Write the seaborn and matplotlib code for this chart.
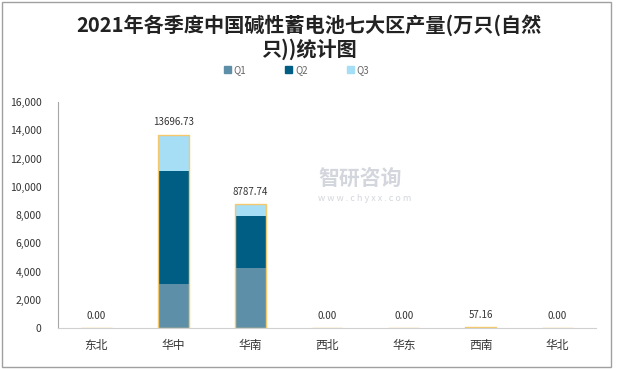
import matplotlib
matplotlib.use("Agg")
import matplotlib.pyplot as plt
import seaborn as sns
import pandas as pd
from matplotlib.patches import Rectangle

# data
regions = ["东北", "华中", "华南", "西北", "华东", "西南", "华北"]
q1 = [0, 3080, 4280, 0, 0, 20, 0]
q2 = [0, 8050, 3680, 0, 0, 20, 0]
q3 = [0, 2566.73, 827.74, 0, 0, 17.16, 0]
totals = [0.00, 13696.73, 8787.74, 0.00, 0.00, 57.16, 0.00]

colors = {"Q1": "#5E8FA8", "Q2": "#005E84", "Q3": "#A6DEF6"}

sns.set_theme(style="white")
plt.rcParams['font.family'] = ['Noto Sans CJK SC', 'DejaVu Sans']

df = pd.DataFrame({"region": regions, "Q1": q1, "Q2": q2, "Q3": q3, "total": totals})

fig = plt.figure(figsize=(6.18, 3.69), dpi=100)
ax = fig.add_axes([58 / 618, 41 / 369, 538 / 618, 226 / 369])

# stacked bars: draw cumulative sums back to front
cum3 = df["Q1"] + df["Q2"] + df["Q3"]
cum2 = df["Q1"] + df["Q2"]
for y, c in [(cum3, colors["Q3"]), (cum2, colors["Q2"]), (df["Q1"], colors["Q1"])]:
    sns.barplot(x=df["region"], y=y, color=c, width=0.4, ax=ax,
                saturation=1, linewidth=0)
# total series: outline only
sns.barplot(x=df["region"], y=df["total"], fill=False, edgecolor="#F5C96B",
            linewidth=1.0, width=0.4, ax=ax)

for i, t in enumerate(totals):
    ax.text(i, t + 500, f"{t:.2f}", ha="center", va="bottom", fontsize=7, color="#333333")

ax.set_ylim(0, 16000)
ax.set_xlim(-0.5, 6.5)
ax.set_yticks(range(0, 16001, 2000))
ax.set_yticklabels([f"{v:,}" for v in range(0, 16001, 2000)], fontsize=7.5, color="#333333")
ax.tick_params(axis="x", labelsize=8.5, colors="#333333", length=0, pad=8)
ax.tick_params(axis="y", length=0, pad=12)
ax.set_xlabel("")
ax.set_ylabel("")
for s in ["top", "right"]:
    ax.spines[s].set_visible(False)
ax.spines["left"].set_color("#A6A6A6")
ax.spines["left"].set_linewidth(0.8)
ax.spines["bottom"].set_color("#D0D0D0")
ax.spines["bottom"].set_linewidth(0.8)

fig.text(0.5, 0.90, "2021年各季度中国碱性蓄电池七大区产量(万只(自然\n只))统计图",
         ha="center", va="center", fontsize=14.5, fontweight="bold", color="#222222",
         linespacing=1.15)

handles = [Rectangle((0, 0), 1, 1, color=colors[k]) for k in ["Q1", "Q2", "Q3"]]
fig.legend(handles, ["Q1", "Q2", "Q3"], loc="center", bbox_to_anchor=(0.48, 0.81),
           ncol=3, frameon=False, fontsize=7, handlelength=0.7, handleheight=0.7,
           columnspacing=4.0, handletextpad=0.3, labelcolor="#666666")

# watermark
fig.text(0.515, 0.50, "智研咨询", fontsize=15, color="#C8CCD4", fontweight="bold", alpha=0.8)
fig.text(0.515, 0.455, "w w w . c h y x x . c o m", fontsize=6.5, color="#C8CCD4", alpha=0.8)

fig.patches.append(Rectangle((0.003, 0.005), 0.985, 0.99, transform=fig.transFigure,
                             fill=False, edgecolor="#A0A0A0", linewidth=1.0))

fig.savefig("out.png", dpi=100)
